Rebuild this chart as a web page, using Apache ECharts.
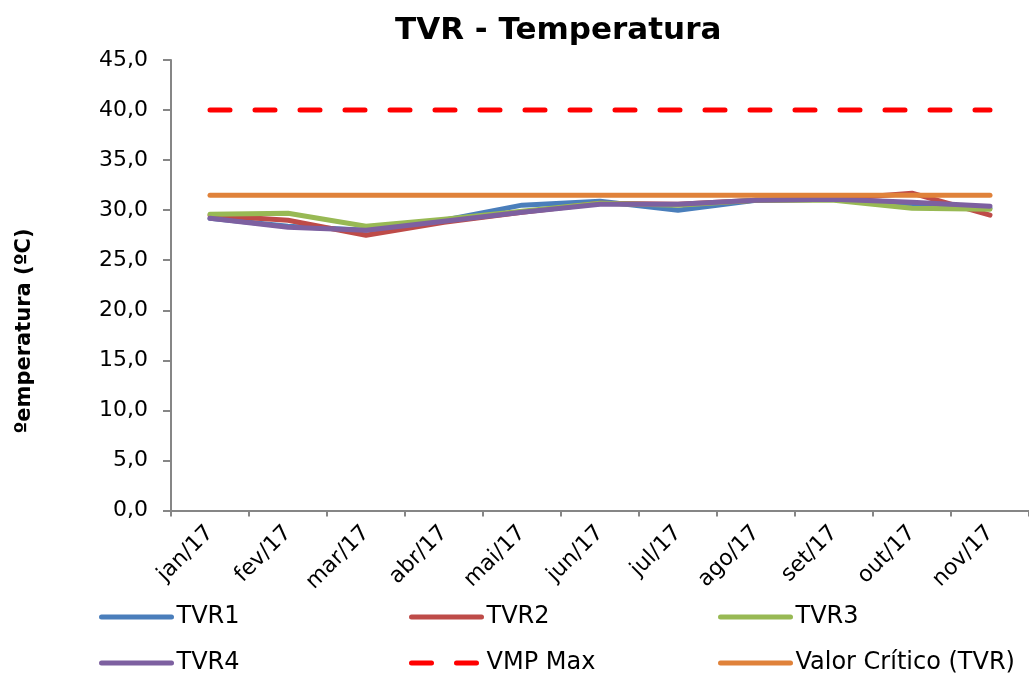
<!DOCTYPE html>
<html>
<head>
<meta charset="utf-8">
<script src="https://cdn.jsdelivr.net/npm/echarts@6/dist/echarts.min.js"></script>
<style>html,body{margin:0;padding:0;background:#fff}#c{width:1029px;height:675px}</style>
</head>
<body>
<div id="c"></div>
<script>
var categories = ['jan/17','fev/17','mar/17','abr/17','mai/17','jun/17','jul/17','ago/17','set/17','out/17','nov/17'];
var tvr1 = [29.2, 28.4, 28.0, 29.0, 30.5, 30.9, 30.0, 31.0, 31.1, 30.6, 30.2];
var tvr2 = [29.5, 29.0, 27.5, 28.8, 29.8, 30.7, 30.6, 31.0, 31.1, 31.7, 29.5];
var tvr3 = [29.6, 29.7, 28.4, 29.1, 29.9, 30.7, 30.5, 31.0, 31.0, 30.2, 30.1];
var tvr4 = [29.2, 28.3, 28.0, 28.9, 29.8, 30.6, 30.6, 31.0, 31.1, 30.8, 30.4];
var vmpMax = [40, 40, 40, 40, 40, 40, 40, 40, 40, 40, 40];
var valorCritico = [31.5, 31.5, 31.5, 31.5, 31.5, 31.5, 31.5, 31.5, 31.5, 31.5, 31.5];
var seriesNames = ['TVR1','TVR2','TVR3','TVR4','VMP Max','Valor Crítico (TVR)'];

var FONT = 'DejaVu Sans';
var chart = echarts.init(document.getElementById('c'), null, {renderer: 'canvas'});

function line(name, data, color, dashed) {
  return {
    name: name, type: 'line', data: data, symbol: 'none', smooth: false,
    animation: false,
    lineStyle: {color: color, width: 5, cap: 'round', join: 'round',
      type: dashed ? [20, 25] : 'solid'},
    itemStyle: {color: color},
    emphasis: {disabled: true}
  };
}

var legendPos = [
  {left: 99, top: 605}, {left: 409, top: 605}, {left: 718, top: 605},
  {left: 99, top: 651}, {left: 409, top: 651}, {left: 718, top: 651}
];
var legends = seriesNames.map(function (n, i) {
  return {
    data: [n], left: legendPos[i].left, top: legendPos[i].top,
    itemWidth: 70, itemHeight: 24, itemGap: 0, padding: 0,
    selectedMode: false,
    itemStyle: {opacity: 0},
    lineStyle: {width: 5, cap: 'round'},
    textStyle: {fontFamily: FONT, fontSize: 24, color: '#000', lineHeight: 24, padding: [0,0,0,0]}
  };
});

chart.setOption({
  animation: false,
  backgroundColor: '#fff',
  title: {
    text: 'TVR - Temperatura', left: 390, top: 10,
    textStyle: {fontFamily: FONT, fontSize: 31, fontWeight: 'bold', color: '#000'}
  },
  legend: legends,
  grid: {left: 171, top: 60, width: 868, height: 450.5, containLabel: false},
  xAxis: {
    type: 'category', data: categories, boundaryGap: true,
    axisLine: {lineStyle: {color: '#868686', width: 2}},
    axisTick: {show: true, inside: false, length: 6, alignWithLabel: false, lineStyle: {color: '#868686', width: 2}},
    axisLabel: {rotate: 45, interval: 0, margin: 19, fontFamily: FONT, fontSize: 22, color: '#000'},
    splitLine: {show: false}
  },
  yAxis: {
    type: 'value', min: 0, max: 45, interval: 5,
    axisLine: {show: true, lineStyle: {color: '#868686', width: 2}},
    axisTick: {show: true, inside: false, length: 8, lineStyle: {color: '#868686', width: 2}},
    axisLabel: {margin: 23, fontFamily: FONT, fontSize: 22, color: '#000',
      formatter: function (v) { return v.toFixed(1).replace('.', ','); }},
    splitLine: {show: false}
  },
  graphic: [{
    type: 'text', x: 25, y: 331, rotation: Math.PI / 2,
    style: {text: 'ºemperatura (ºC)', fontFamily: FONT, fontSize: 21, fontWeight: 'bold',
      fill: '#000', align: 'center', verticalAlign: 'middle'}
  }],
  series: [
    line('TVR1', tvr1, '#4A7EBB'),
    line('TVR2', tvr2, '#BE4B48'),
    line('TVR3', tvr3, '#98B954'),
    line('TVR4', tvr4, '#7D60A0'),
    line('VMP Max', vmpMax, '#FF0000', true),
    line('Valor Crítico (TVR)', valorCritico, '#E0823A')
  ]
});
</script>
</body>
</html>
